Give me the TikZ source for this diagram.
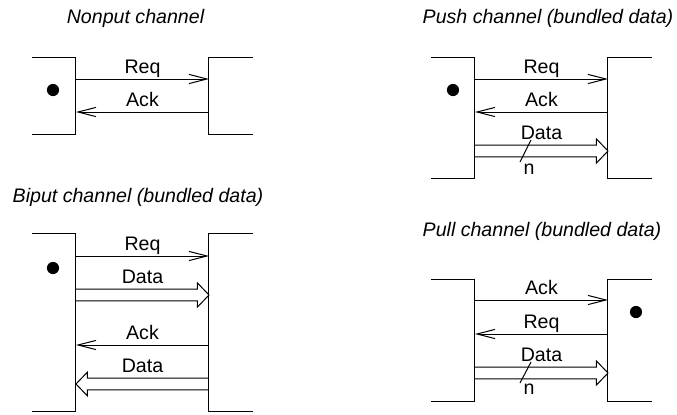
\documentclass[tikz,border=0pt]{standalone}
\usepackage{fontspec}
\setmainfont{Liberation Sans}
\usetikzlibrary{arrows.meta, calc, positioning}
\newcommand{\chfont}{\fontsize{9.8pt}{11.8pt}\selectfont}

\tikzset{
  sig/.style={-{Straight Barb[length=9pt, width=4.6pt]}},
  bus/.style={to path={
    ($(\tikztostart)+(0,2.9pt)$) -- ($(\tikztotarget)!5.75pt!(\tikztostart)+(0,2.9pt)$)
    -- ($(\tikztotarget)!5.75pt!(\tikztostart)+(0,6pt)$) -- (\tikztotarget)
    -- ($(\tikztotarget)!5.75pt!(\tikztostart)+(0,-6pt)$)
    -- ($(\tikztotarget)!5.75pt!(\tikztostart)+(0,-2.9pt)$)
    -- ($(\tikztostart)+(0,-2.9pt)$)}},
  lbl/.style={inner sep=0pt, text depth=0pt, above=2.5pt},
  buslbl/.style={inner sep=0pt, text depth=0pt, above=5.5pt},
  width/.style={inner sep=0pt, anchor=base},
  title/.style={font=\chfont\itshape, inner sep=0pt, anchor=base},
  dot/.style={circle, fill, inner sep=0pt, minimum size=6.1pt}
}

\begin{document}
\begin{tikzpicture}[x=0.5pt, y=-0.5pt, line width=0.5pt,
  every node/.style={font=\chfont}]
  \useasboundingbox (0,0) rectangle (677,414);
  % open boxes on both sides of each channel
  \foreach \px/\py/\h in {76/57/77, 76/233/178, 475/57/121, 475/279/122} {
    \draw (\px-44,\py) -- (\px,\py) -- (\px,\py+\h) -- (\px-44,\py+\h);
    \draw (\px+177,\py) -- (\px+133,\py) -- (\px+133,\py+\h) -- (\px+177,\py+\h);
  }

  % Nonput
  \node[title] (tnon) at (135.5,23) {Nonput channel};
  \begin{scope}[shift={(76,57)}]
    \node[dot] (ndot) at (-23,33) {};
    \coordinate (nL1) at (0,22);  \coordinate (nR1) at (133,22);
    \coordinate (nL2) at (0,55);  \coordinate (nR2) at (133,55);
    \draw[sig] (nL1) -- node[lbl] (nreq) {Req} (nR1);
    \draw[sig] (nR2) -- node[lbl] (nack) {Ack} (nL2);
  \end{scope}

  % Biput
  \node[title] (tbi) at (138,202) {Biput channel (bundled data)};
  \begin{scope}[shift={(76,233)}]
    \node[dot] (bdot) at (-23,35) {};
    \coordinate (bL1) at (0,23);  \coordinate (bR1) at (133,23);
    \coordinate (bL2) at (0,62);  \coordinate (bR2) at (133,62);
    \coordinate (bL3) at (0,112); \coordinate (bR3) at (133,112);
    \coordinate (bL4) at (0,151); \coordinate (bR4) at (133,151);
    \draw[sig] (bL1) -- node[lbl] (breq) {Req} (bR1);
    \draw[bus] (bL2) to (bR2);
    \node[buslbl] (bdin) at ($(bL2)!.5!(bR2)$) {Data};
    \draw[sig] (bR3) -- node[lbl] (back) {Ack} (bL3);
    \draw[bus] (bR4) to (bL4);
    \node[buslbl] (bdout) at ($(bL4)!.5!(bR4)$) {Data};
  \end{scope}

  % Push
  \node[title] (tpush) at (548,23) {Push channel (bundled data)};
  \begin{scope}[shift={(475,57)}]
    \node[dot] (pdot) at (-22,33) {};
    \coordinate (pL1) at (0,22);  \coordinate (pR1) at (133,22);
    \coordinate (pL2) at (0,55);  \coordinate (pR2) at (133,55);
    \coordinate (pL3) at (0,94);  \coordinate (pR3) at (133,94);
    \draw[sig] (pL1) -- node[lbl] (preq) {Req} (pR1);
    \draw[sig] (pR2) -- node[lbl] (pack) {Ack} (pL2);
    \draw[bus] (pL3) to (pR3);
    \node[buslbl] (pdata) at ($(pL3)!.5!(pR3)$) {Data};
    \coordinate (ps1) at (56,83); \coordinate (ps2) at (45,105);
    \draw (ps1) -- (ps2);
    \node[width] (pn) at (54,117) {n};
  \end{scope}

  % Pull
  \node[title] (tpull) at (542,236) {Pull channel (bundled data)};
  \begin{scope}[shift={(475,279)}]
    \node[dot] (qdot) at (161,33) {};
    \coordinate (qL1) at (0,21);  \coordinate (qR1) at (133,21);
    \coordinate (qL2) at (0,55);  \coordinate (qR2) at (133,55);
    \coordinate (qL3) at (0,94);  \coordinate (qR3) at (133,94);
    \draw[sig] (qL1) -- node[lbl] (qack) {Ack} (qR1);
    \draw[sig] (qR2) -- node[lbl] (qreq) {Req} (qL2);
    \draw[bus] (qL3) to (qR3);
    \node[buslbl] (qdata) at ($(qL3)!.5!(qR3)$) {Data};
    \coordinate (qs1) at (56,83); \coordinate (qs2) at (45,104);
    \draw (qs1) -- (qs2);
    \node[width] (qn) at (54,115) {n};
  \end{scope}
\end{tikzpicture}
\end{document}
